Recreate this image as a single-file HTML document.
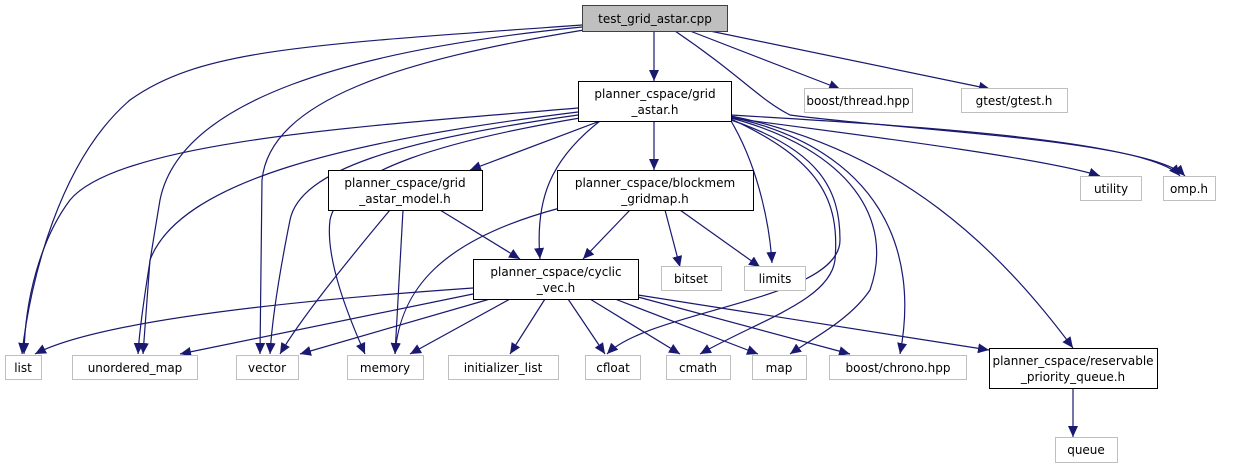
<!DOCTYPE html>
<html><head><meta charset="utf-8"><style>
html,body{margin:0;padding:0;background:#fff;}
svg{display:block;}
text{font-family:"DejaVu Sans","Liberation Sans",sans-serif;font-size:12px;fill:#000;text-anchor:middle;}
.e{fill:none;stroke:#191970;stroke-width:1.2;marker-end:url(#a);}
.g{fill:#fff;stroke:#bfbfbf;stroke-width:1;}
.b{fill:#fff;stroke:#000;stroke-width:1;}
</style></head><body>
<svg width="1234" height="469" viewBox="0 0 1234 469" xmlns="http://www.w3.org/2000/svg">
<defs><marker id="a" markerUnits="userSpaceOnUse" markerWidth="14" markerHeight="12" refX="11" refY="5" orient="auto"><path d="M0,0 L11,5 L0,10 z" fill="#191970"/></marker></defs>
<path class="e" d="M654,31 L654,81"/>
<path class="e" d="M582,25 C300,45 200,50 130,100 C60,160 30,280 22,354"/>
<path class="e" d="M582,27 C350,50 180,100 160,200 C150,260 140,320 138,354"/>
<path class="e" d="M584,30 C400,60 270,100 262,180 L260,354"/>
<path class="e" d="M690,31 L840,89"/>
<path class="e" d="M710,31 L990,89"/>
<path class="e" d="M675,31 C740,75 760,100 790,115 C900,130 1150,140 1185,176"/>
<path class="e" d="M600,121 L470,170"/>
<path class="e" d="M654,121 L654,170"/>
<path class="e" d="M600,121 C550,160 535,200 540,259"/>
<path class="e" d="M578,108 C380,125 120,140 70,200 C40,240 25,300 24,354"/>
<path class="e" d="M578,112 C350,140 180,180 150,260 L143,354"/>
<path class="e" d="M578,115 C400,140 300,170 290,220 C280,270 272,320 270,354"/>
<path class="e" d="M580,118 C450,140 340,170 330,220 C325,260 350,320 365,354"/>
<path class="e" d="M731,118 C900,140 1050,160 1100,176"/>
<path class="e" d="M731,115 C900,125 1150,140 1180,176"/>
<path class="e" d="M731,121 C760,170 770,230 772,263"/>
<path class="e" d="M731,120 C820,150 840,190 840,240 C840,300 650,310 607,354"/>
<path class="e" d="M731,119 C820,160 840,200 835,260 C830,300 760,320 700,354"/>
<path class="e" d="M731,118 C850,150 895,220 870,290 C850,320 810,340 790,354"/>
<path class="e" d="M731,117 C880,150 920,250 900,354"/>
<path class="e" d="M731,116 C900,150 1000,250 1073,348"/>
<path class="e" d="M440,210 L520,259"/>
<path class="e" d="M390,210 C340,270 300,320 280,354"/>
<path class="e" d="M403,210 L395,354"/>
<path class="e" d="M630,210 L583,259"/>
<path class="e" d="M665,210 L680,267"/>
<path class="e" d="M680,210 L760,267"/>
<path class="e" d="M560,208 C440,240 400,290 395,354"/>
<path class="e" d="M473,288 C300,300 100,320 35,354"/>
<path class="e" d="M473,294 C350,320 250,340 180,354"/>
<path class="e" d="M490,299 L300,354"/>
<path class="e" d="M510,299 L410,354"/>
<path class="e" d="M545,299 L510,354"/>
<path class="e" d="M568,299 L605,354"/>
<path class="e" d="M590,299 L680,354"/>
<path class="e" d="M615,299 L758,354"/>
<path class="e" d="M638,297 L850,354"/>
<path class="e" d="M638,295 L989,350"/>
<path class="e" d="M1073,388 L1073,437"/>
<rect x="582.5" y="5.5" width="145" height="26" fill="#bfbfbf" stroke="#404040"/>
<text x="655" y="23">test_grid_astar.cpp</text>
<rect class="b" x="578.5" y="81.5" width="153" height="40"/>
<text x="655" y="98">planner_cspace/grid</text><text x="655" y="114">_astar.h</text>
<rect class="g" x="804.5" y="88.5" width="108" height="24"/><text x="858" y="105">boost/thread.hpp</text>
<rect class="g" x="961.5" y="88.5" width="106" height="24"/><text x="1014" y="105">gtest/gtest.h</text>
<rect class="b" x="328.5" y="170.5" width="154" height="40"/>
<text x="405" y="187">planner_cspace/grid</text><text x="405" y="203">_astar_model.h</text>
<rect class="b" x="557.5" y="170.5" width="196" height="40"/>
<text x="655" y="187">planner_cspace/blockmem</text><text x="655" y="203">_gridmap.h</text>
<rect class="g" x="1080.5" y="176.5" width="61" height="24"/><text x="1111" y="193">utility</text>
<rect class="g" x="1163.5" y="176.5" width="52" height="24"/><text x="1189" y="193">omp.h</text>
<rect class="b" x="473.5" y="259.5" width="165" height="40"/>
<text x="556" y="276">planner_cspace/cyclic</text><text x="556" y="292">_vec.h</text>
<rect class="g" x="661.5" y="266.5" width="60" height="24"/><text x="691" y="283">bitset</text>
<rect class="g" x="744.5" y="266.5" width="61" height="24"/><text x="775" y="283">limits</text>
<rect class="g" x="5.5" y="355.5" width="36" height="24"/><text x="23" y="372">list</text>
<rect class="g" x="72.5" y="355.5" width="125" height="24"/><text x="135" y="372">unordered_map</text>
<rect class="g" x="236.5" y="355.5" width="62" height="24"/><text x="267" y="372">vector</text>
<rect class="g" x="347.5" y="355.5" width="76" height="24"/><text x="385" y="372">memory</text>
<rect class="g" x="448.5" y="355.5" width="110" height="24"/><text x="503" y="372">initializer_list</text>
<rect class="g" x="585.5" y="355.5" width="55" height="24"/><text x="613" y="372">cfloat</text>
<rect class="g" x="666.5" y="355.5" width="64" height="24"/><text x="698" y="372">cmath</text>
<rect class="g" x="752.5" y="355.5" width="54" height="24"/><text x="779" y="372">map</text>
<rect class="g" x="829.5" y="355.5" width="137" height="24"/><text x="898" y="372">boost/chrono.hpp</text>
<rect class="b" x="989.5" y="348.5" width="168" height="40"/>
<text x="1073" y="365">planner_cspace/reservable</text><text x="1073" y="381">_priority_queue.h</text>
<rect class="g" x="1055.5" y="437.5" width="62" height="25"/><text x="1086" y="454">queue</text>
</svg>
</body></html>
